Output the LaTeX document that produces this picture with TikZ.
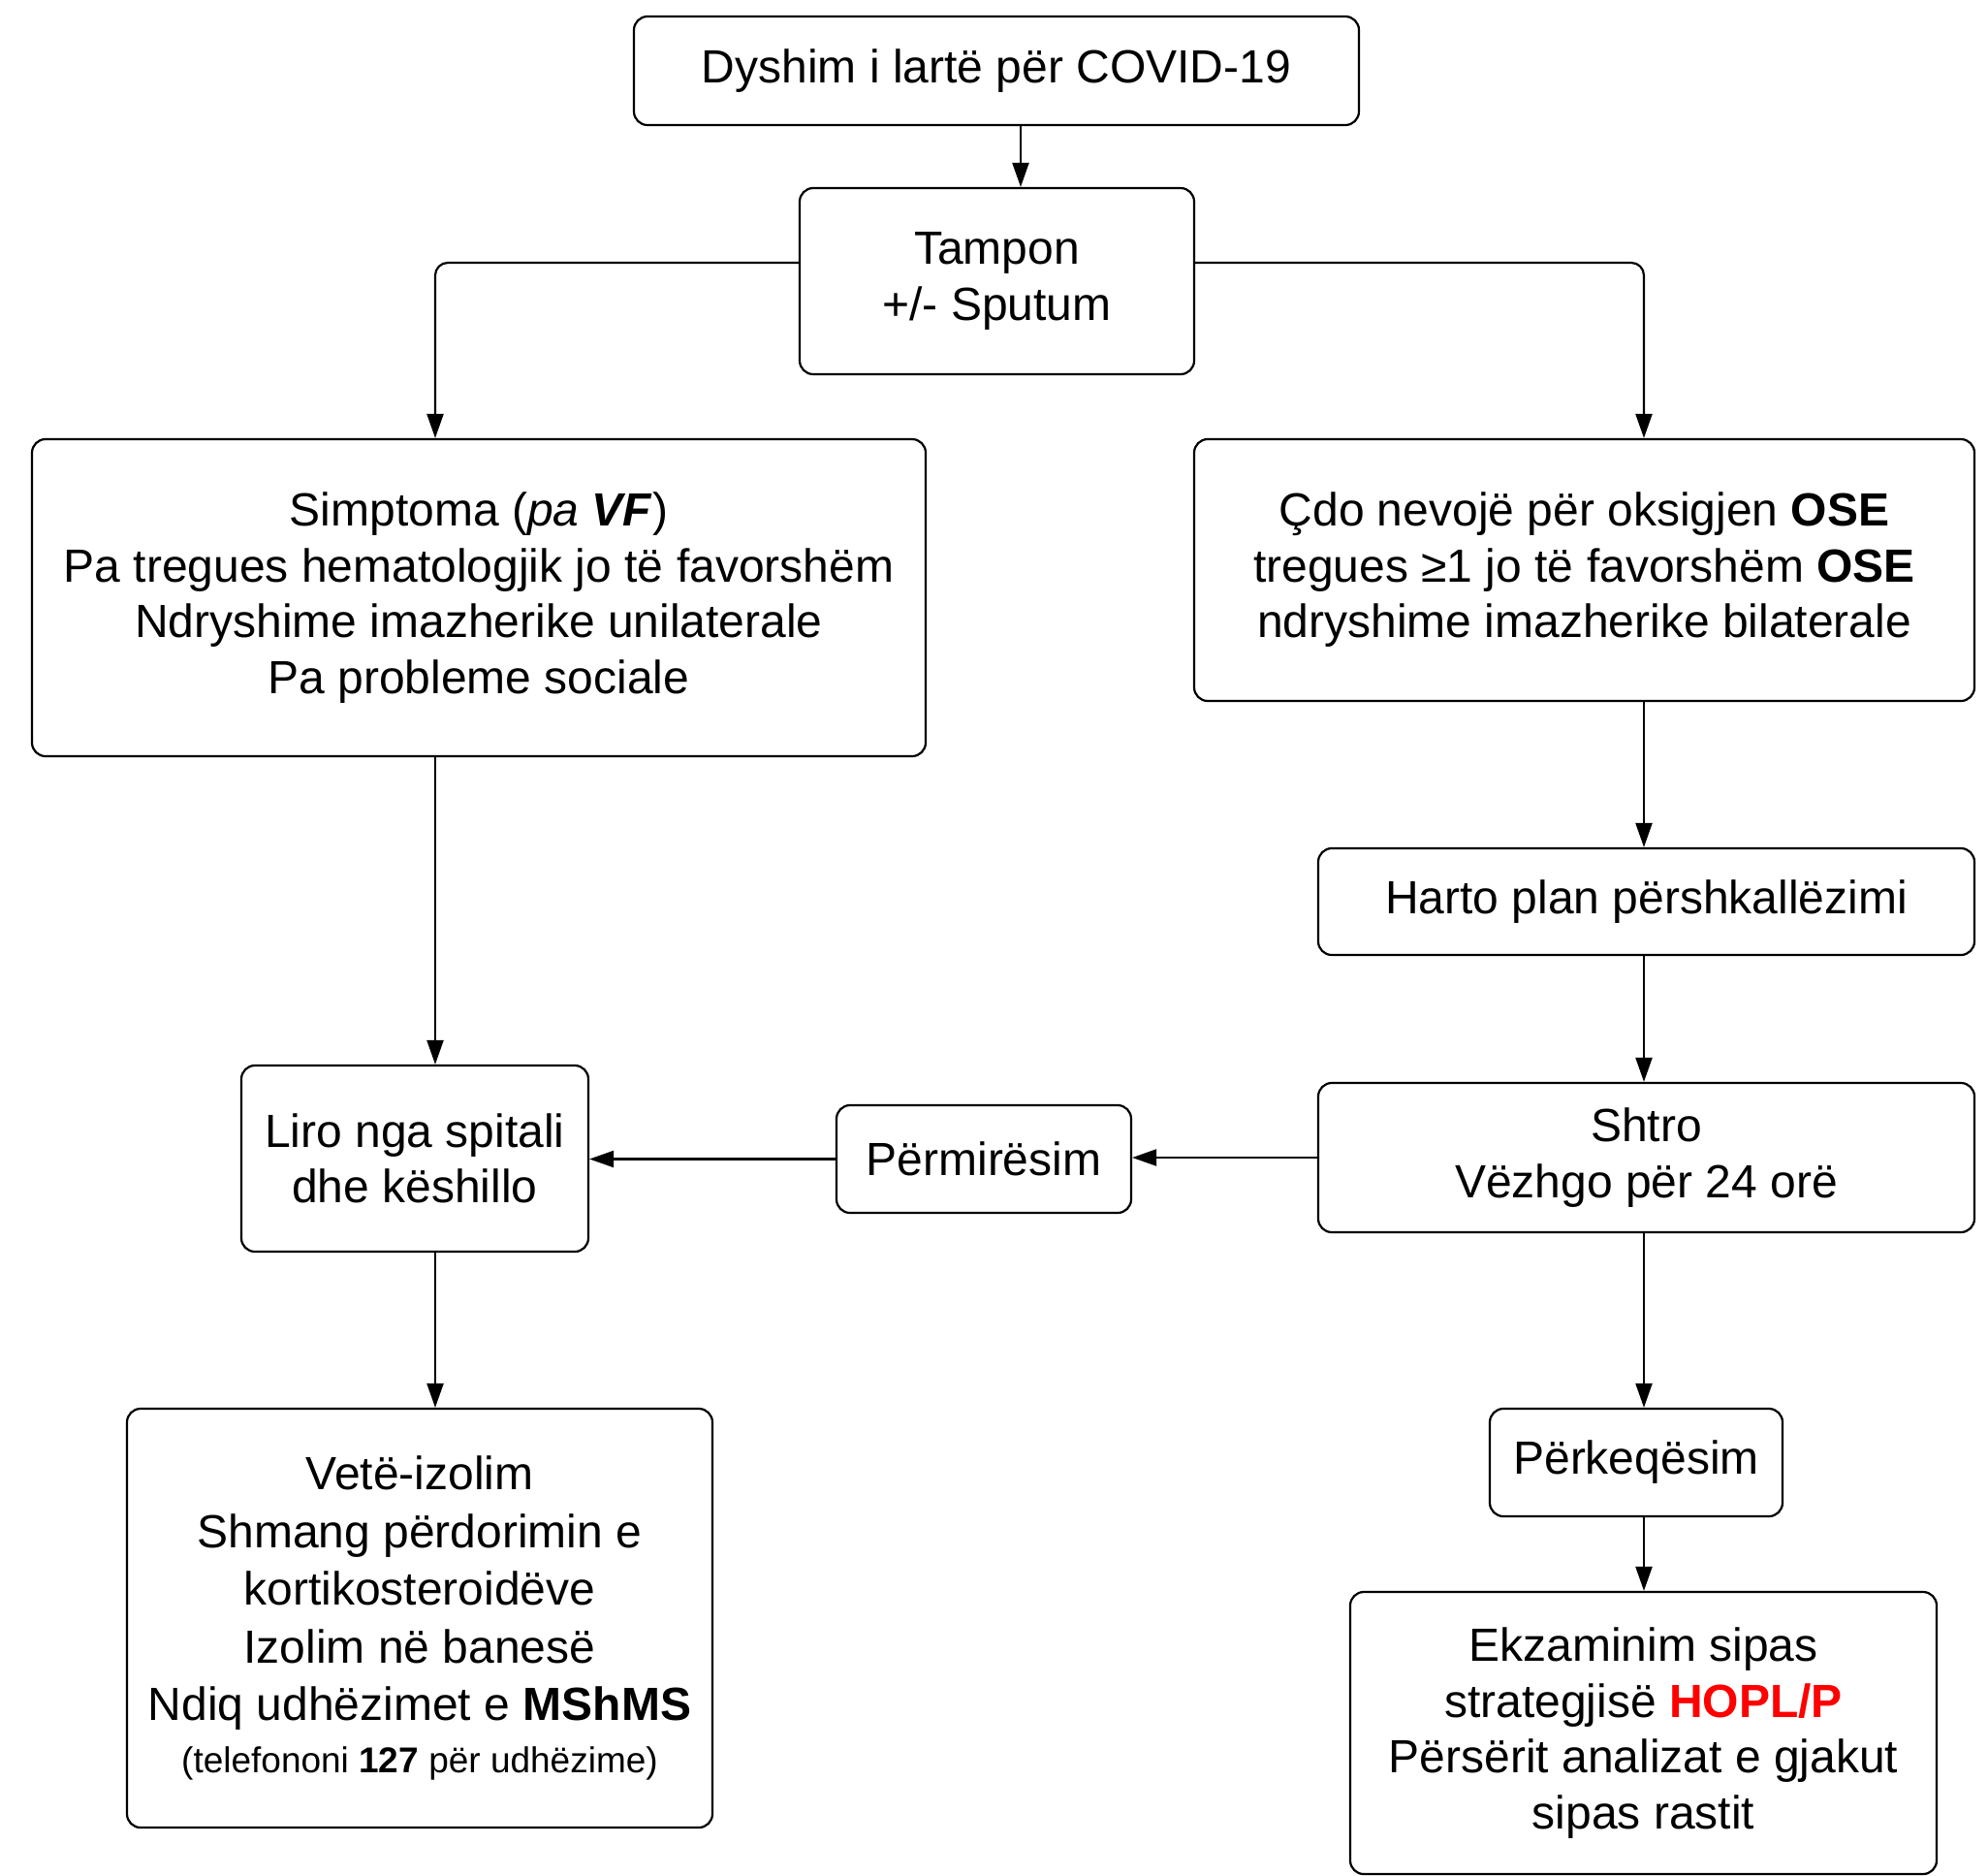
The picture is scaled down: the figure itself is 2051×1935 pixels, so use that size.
\documentclass[tikz,border=0pt]{standalone}
\usepackage{fontspec}
\setmainfont{Liberation Sans}
\usetikzlibrary{arrows.meta,calc}
\begin{document}
\begin{tikzpicture}[x=1pt,y=-1pt,
  box/.style={draw=black,line width=2.2pt,rounded corners=14pt,align=center,inner sep=0pt,
    font=\fontsize{48}{57.5}\selectfont},
  arr/.style={draw=black,line width=2.2pt,-{Triangle[length=25pt,width=17pt]}},
]
\useasboundingbox (0,0) rectangle (2051,1935);
\fill[white] (0,0) rectangle (2051,1935);

\node[box,minimum width=748pt,minimum height=112pt] (top) at (1028,73) {Dyshim i lartë për COVID-19};
\node[box,minimum width=407pt,minimum height=192pt] (tampon) at (1028.5,290) {Tampon\\+/- Sputum};
\node[box,minimum width=922pt,minimum height=327pt] (left) at (494,616.5)
  {Simptoma (\textit{pa} \textbf{\textit{VF}})\\Pa tregues hematologjik jo të favorshëm\\Ndryshime imazherike unilaterale\\Pa probleme sociale};
\node[box,minimum width=805pt,minimum height=270pt] (right) at (1634.5,588)
  {Çdo nevojë për oksigjen \textbf{OSE}\\tregues ≥1 jo të favorshëm \textbf{OSE}\\ndryshime imazherike bilaterale};
\node[box,minimum width=677pt,minimum height=110pt] (harto) at (1698.5,930) {Harto plan përshkallëzimi};
\node[box,minimum width=677pt,minimum height=154pt] (shtro) at (1698.5,1194) {Shtro\\Vëzhgo për 24 orë};
\node[box,minimum width=304pt,minimum height=111pt] (perm) at (1015,1195.5) {Përmirësim};
\node[box,minimum width=358pt,minimum height=192pt] (liro) at (428,1195) {Liro nga spitali\\dhe këshillo};
\node[box,minimum width=604pt,minimum height=432pt,font=\fontsize{48}{59.5}\selectfont] (vete) at (433,1669)
  {Vetë-izolim\\Shmang përdorimin e\\kortikosteroidëve\\Izolim në banesë\\Ndiq udhëzimet e \textbf{MShMS}\\[-6pt]
   {\fontsize{37}{44}\selectfont (telefononi \textbf{127} për udhëzime)}};
\node[box,minimum width=302pt,minimum height=111pt] (perk) at (1688,1508.5) {Përkeqësim};
\node[box,minimum width=605pt,minimum height=291pt] (ekz) at (1695.5,1787.5)
  {Ekzaminim sipas\\strategjisë \textcolor{red}{\textbf{HOPL/P}}\\Përsërit analizat e gjakut\\sipas rastit};

\draw[arr] ([xshift=25pt]top.south) -- ([xshift=25pt]top.south |- tampon.north);
\draw[arr,rounded corners=13pt] ([yshift=19pt]tampon.west) -| ([xshift=-45pt]left.north);
\draw[arr,rounded corners=13pt] ([yshift=19pt]tampon.east) -| ([xshift=61.5pt]right.north);
\draw[arr] ([xshift=61.5pt]right.south) -- ([xshift=61.5pt]right.south |- harto.north);
\draw[arr] ([xshift=-2.5pt]harto.south) -- ([xshift=-2.5pt]harto.south |- shtro.north);
\draw[arr] (shtro.west) -- (shtro.west -| perm.east);
\draw[arr] (perm.west) -- (perm.west -| liro.east);
\draw[arr] ([xshift=-45pt]left.south) -- ([xshift=-45pt]left.south |- liro.north);
\draw[arr] ([xshift=21pt]liro.south) -- ([xshift=21pt]liro.south |- vete.north);
\draw[arr] ([xshift=-2.5pt]shtro.south) -- ([xshift=-2.5pt]shtro.south |- perk.north);
\draw[arr] ([xshift=8pt]perk.south) -- ([xshift=8pt]perk.south |- ekz.north);
\end{tikzpicture}
\end{document}
